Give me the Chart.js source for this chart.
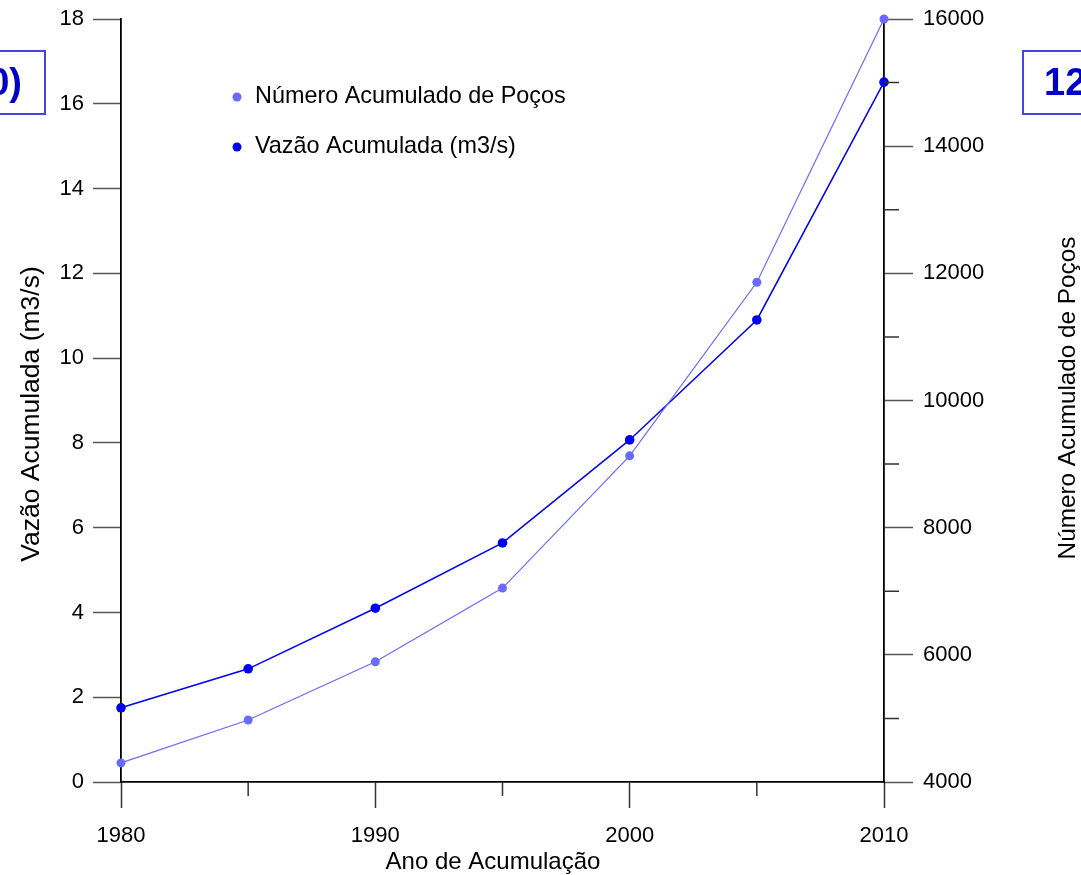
<!DOCTYPE html>
<html>
<head>
<meta charset="utf-8">
<script src="https://cdn.jsdelivr.net/npm/chart.js@4.4.1/dist/chart.umd.min.js"></script>
<style>
  body { margin: 0; overflow: hidden; background: #fff; }
  #wrap { position: relative; width: 1081px; height: 875px; }
  .tag { position: absolute; border: 2px solid #4646dc; color: #0000c8; font: bold 38px "Liberation Sans", Arial, sans-serif; line-height: 61px; box-sizing: border-box; height: 65px; }
  #tagLeft { left: -60px; top: 50px; width: 106px; text-align: right; padding-right: 22px; }
  #tagRight { left: 1022px; top: 50px; width: 120px; padding-left: 20px; }
</style>
</head>
<body>
<div id="wrap">
  <canvas id="myChart"></canvas>
  <div class="tag" id="tagLeft">0)</div>
  <div class="tag" id="tagRight">12</div>
</div>
<script>
// Data
const years = [1980, 1985, 1990, 1995, 2000, 2005, 2010];
const vazao = [1.75, 2.67, 4.10, 5.64, 8.07, 10.90, 16.51];
const pocos = [4300, 4975, 5890, 7050, 9130, 11860, 16000];

const vazaoLabel = 'Vazão Acumulada (m3/s)';
const pocosLabel = 'Número Acumulado de Poços';
const xTitle = 'Ano de Acumulação';

const lightBlue = '#6a6aff';
const darkBlue = '#0000f0';
const fontName = '"Liberation Sans", Arial, sans-serif';

Chart.defaults.font.family = fontName;
Chart.defaults.color = '#000';

// short minor tick marks (Chart.js draws one tick length per axis)
const minorTicks = {
    id: 'minorTicks',
    afterDraw(chart) {
        const ctx = chart.ctx;
        const x = chart.scales.x;
        const y2 = chart.scales.y2;
        ctx.save();
        ctx.strokeStyle = '#333';
        ctx.lineWidth = 1.5;
        ctx.beginPath();
        [1985, 1995, 2005].forEach(v => {
            const px = x.getPixelForValue(v);
            ctx.moveTo(px, x.top);
            ctx.lineTo(px, x.top + 14);
        });
        [5000, 7000, 9000, 11000, 13000, 15000].forEach(v => {
            const py = y2.getPixelForValue(v);
            ctx.moveTo(y2.left, py);
            ctx.lineTo(y2.left + 15, py);
        });
        ctx.stroke();
        ctx.restore();
    }
};

// axis titles, placed where the original has them
const axisTitles = {
    id: 'axisTitles',
    afterDraw(chart) {
        const ctx = chart.ctx;
        ctx.save();
        ctx.fillStyle = '#000';
        ctx.textAlign = 'center';
        ctx.textBaseline = 'middle';

        ctx.font = '24px ' + fontName;
        ctx.fillText(xTitle, 493, 862);

        ctx.save();
        ctx.translate(32, 414);
        ctx.rotate(-Math.PI / 2);
        ctx.font = '26.5px ' + fontName;
        ctx.fillText(vazaoLabel, 0, 0);
        ctx.restore();

        ctx.save();
        ctx.translate(1068, 398);
        ctx.rotate(-Math.PI / 2);
        ctx.font = '24.3px ' + fontName;
        ctx.fillText(pocosLabel, 0, 0);
        ctx.restore();

        ctx.restore();
    }
};

// legend drawn inside the plot like the original
const innerLegend = {
    id: 'innerLegend',
    afterDraw(chart) {
        const ctx = chart.ctx;
        const items = [[pocosLabel, lightBlue, 97], [vazaoLabel, darkBlue, 147]];
        ctx.save();
        ctx.font = '23.4px ' + fontName;
        ctx.textBaseline = 'middle';
        items.forEach(([txt, col, y]) => {
            ctx.fillStyle = col;
            ctx.beginPath();
            ctx.arc(237, y, 4.5, 0, Math.PI * 2);
            ctx.fill();
            ctx.fillStyle = '#000';
            ctx.fillText(txt, 255, y);
        });
        ctx.restore();
    }
};

// fixed box sizes so the plot area lands where the original's does
function fixVertical(width) {
    return s => {
        s.width = width;
        s.paddingTop = 0;
        s.paddingBottom = 0;
    };
}

const ctx = document.getElementById('myChart').getContext('2d');

const myChart = new Chart(ctx, {
    type: 'line',
    data: {
        datasets: [{
            label: pocosLabel,
            data: years.map((yr, i) => ({ x: yr, y: pocos[i] })),
            yAxisID: 'y2',
            borderColor: lightBlue,
            backgroundColor: lightBlue,
            borderWidth: 1.2,
            pointRadius: 4.5,
            pointBorderWidth: 0,
            tension: 0,
            clip: false
        }, {
            label: vazaoLabel,
            data: years.map((yr, i) => ({ x: yr, y: vazao[i] })),
            yAxisID: 'y',
            borderColor: darkBlue,
            backgroundColor: darkBlue,
            borderWidth: 1.5,
            pointRadius: 4.8,
            pointBorderWidth: 0,
            tension: 0,
            clip: false
        }]
    },
    options: {
        responsive: true,
        maintainAspectRatio: false,
        animation: false,
        layout: { padding: { top: 19, left: 0, right: 0, bottom: 0 } },
        plugins: {
            legend: { display: false },
            tooltip: { enabled: false }
        },
        scales: {
            x: {
                type: 'linear',
                min: 1980,
                max: 2010,
                border: { color: '#000', width: 1.8 },
                grid: {
                    drawOnChartArea: false,
                    tickLength: 26,
                    tickWidth: 1.5,
                    tickColor: c => (c.tick && c.tick.value % 10 === 0) ? '#333' : 'rgba(0,0,0,0)'
                },
                ticks: {
                    stepSize: 5,
                    autoSkip: false,
                    maxRotation: 0,
                    padding: 15,
                    font: { size: 22 },
                    callback: v => v % 10 === 0 ? String(v) : ''
                },
                afterFit: s => { s.height = 93; s.paddingLeft = 0; s.paddingRight = 0; }
            },
            y: {
                position: 'left',
                min: 0,
                max: 18,
                border: { color: '#000', width: 1.8 },
                grid: { drawOnChartArea: false, tickLength: 28, tickWidth: 1.5, tickColor: '#555' },
                ticks: { stepSize: 2, padding: 9, font: { size: 22 } },
                afterFit: fixVertical(121)
            },
            y2: {
                position: 'right',
                min: 4000,
                max: 16000,
                border: { color: '#000', width: 1.8 },
                grid: {
                    drawOnChartArea: false,
                    tickLength: 29,
                    tickWidth: 1.5,
                    tickColor: c => (c.tick && c.tick.value % 2000 === 0) ? '#555' : 'rgba(0,0,0,0)'
                },
                ticks: {
                    stepSize: 1000,
                    padding: 10,
                    font: { size: 22 },
                    callback: v => v % 2000 === 0 ? String(v) : ''
                },
                afterFit: fixVertical(197)
            }
        }
    },
    plugins: [minorTicks, axisTitles, innerLegend]
});
</script>
</body>
</html>
